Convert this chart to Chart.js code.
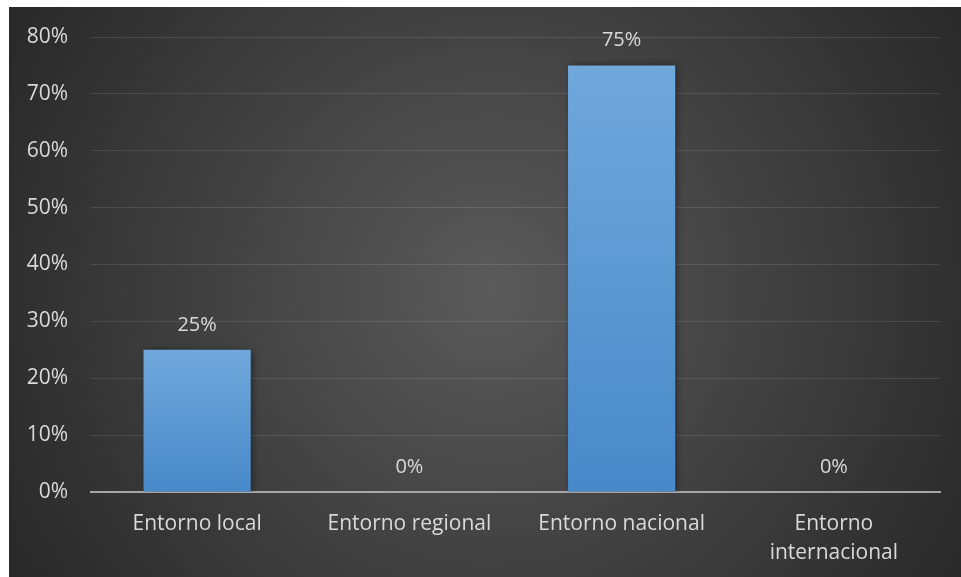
<!DOCTYPE html>
<html>
<head>
<meta charset="utf-8">
<script src="https://cdn.jsdelivr.net/npm/chart.js@4"></script>
<style>
  html, body { margin: 0; padding: 0; background: #fff; }
  #wrap { width: 961px; height: 577px; position: relative; }
</style>
</head>
<body>
<div id="wrap"><canvas id="bar"></canvas></div>
<script>
const categorias = ['Entorno local', 'Entorno regional', 'Entorno nacional', ['Entorno', 'internacional']];
const valores = [25, 0, 75, 0];
const ticksY = [0, 10, 20, 30, 40, 50, 60, 70, 80];

const txt = '#d9d9d9';
const fuente = "'Open Sans', 'Noto Sans', sans-serif";

// fondo oscuro con degradado radial
const fondo = {
  id: 'fondo',
  beforeDraw(chart) {
    const ctx = chart.ctx;
    const w = chart.width, h = chart.height;
    ctx.save();
    ctx.fillStyle = '#ffffff';
    ctx.fillRect(0, 0, w, h);
    const g = ctx.createRadialGradient(490, 290, 0, 490, 290, 580);
    g.addColorStop(0, '#5a5a5a');
    g.addColorStop(1, '#262626');
    ctx.fillStyle = g;
    ctx.fillRect(9, 7, w - 9, h - 7);
    ctx.restore();
  }
};

// sombra suave detrás de las barras
const sombra = {
  id: 'sombra',
  beforeDatasetsDraw(chart) {
    const ctx = chart.ctx;
    ctx.save();
    ctx.shadowColor = 'rgba(0,0,0,0.45)';
    ctx.shadowBlur = 7;
    ctx.shadowOffsetX = 2;
  },
  afterDatasetsDraw(chart) {
    chart.ctx.restore();
  }
};

// etiquetas de valor encima de cada barra
const etiquetas = {
  id: 'etiquetas',
  afterDatasetsDraw(chart) {
    const ctx = chart.ctx;
    const meta = chart.getDatasetMeta(0);
    ctx.save();
    ctx.fillStyle = txt;
    ctx.font = '20px ' + fuente;
    ctx.textAlign = 'center';
    ctx.textBaseline = 'middle';
    meta.data.forEach((b, i) => {
      ctx.fillText(valores[i] + '%', b.x, b.y - 25);
    });
    ctx.restore();
  }
};

new Chart(document.getElementById('bar'), {
  type: 'bar',
  data: {
    labels: categorias,
    datasets: [{
      data: valores,
      barPercentage: 1,
      categoryPercentage: 0.505,
      backgroundColor(c) {
        const chart = c.chart;
        if (!chart.chartArea) return '#5b9bd5';
        const y = chart.scales.y;
        const top = y.getPixelForValue(c.raw);
        const base = y.getPixelForValue(0);
        const g = chart.ctx.createLinearGradient(0, top, 0, Math.max(base, top + 1));
        g.addColorStop(0, '#71a8dc');
        g.addColorStop(1, '#4789c9');
        return g;
      },
      borderWidth: 0
    }]
  },
  options: {
    responsive: true,
    maintainAspectRatio: false,
    animation: false,
    layout: { padding: { left: 9, top: 37, right: 21, bottom: 0 } },
    plugins: { legend: { display: false }, tooltip: { enabled: false } },
    scales: {
      y: {
        min: 0,
        max: 80,
        afterBuildTicks(s) { s.ticks = ticksY.map(v => ({ value: v })); },
        afterFit(s) { s.width = 82; },
        ticks: {
          color: txt,
          padding: 23,
          font: { family: fuente, size: 21 },
          callback: v => v + '%'
        },
        grid: { color: 'rgba(255,255,255,0.11)', lineWidth: 1, drawTicks: false },
        border: { display: false }
      },
      x: {
        afterFit(s) { s.height = 85; },
        ticks: {
          color: txt,
          padding: 10,
          maxRotation: 0,
          font: { family: fuente, size: 21, lineHeight: 1.35 }
        },
        grid: { display: false },
        border: { display: true, color: '#a6a6a6', width: 2 }
      }
    }
  },
  plugins: [fondo, sombra, etiquetas]
});
</script>
</body>
</html>
